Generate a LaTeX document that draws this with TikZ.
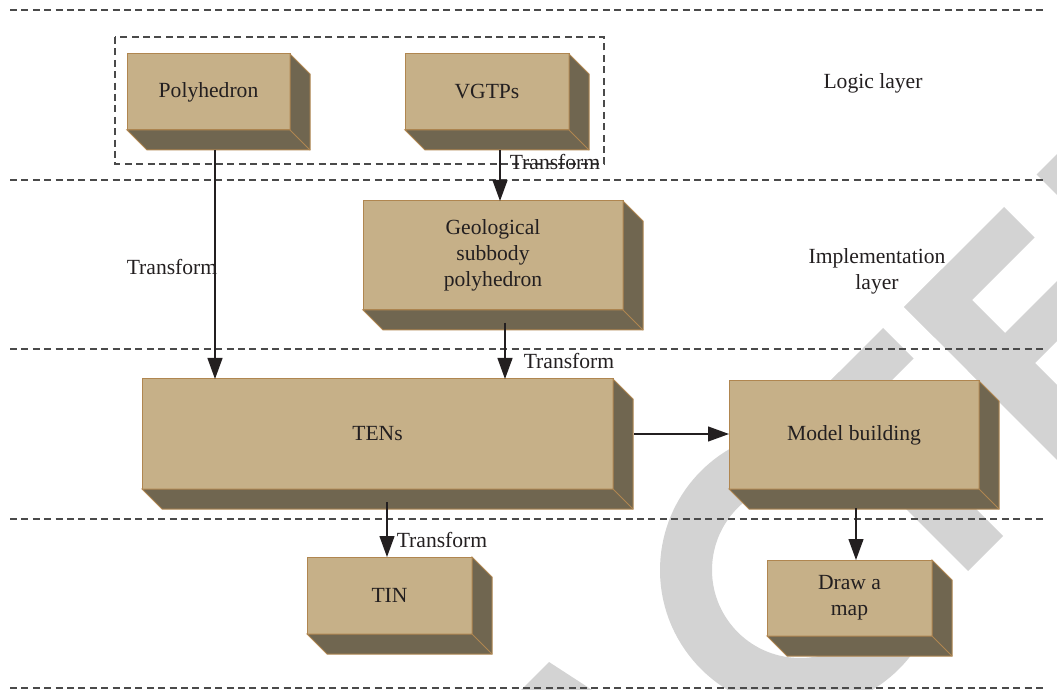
\documentclass[tikz,border=0pt]{standalone}
\usepackage{fontspec}
\setmainfont{Liberation Serif}
\usepackage{xcolor}
\usepackage{tikz}
\usetikzlibrary{arrows.meta}

\definecolor{boxfront}{HTML}{C6B088}
\definecolor{boxside}{HTML}{706650}
\definecolor{boxedge}{HTML}{B08650}
\definecolor{inkc}{HTML}{231F20}
\definecolor{wmgray}{HTML}{D3D3D3}
\definecolor{dashc}{HTML}{4A4A4A}

\tikzset{
  box3d/.style={draw=boxedge, fill=boxfront, line width=0.5pt, inner sep=0pt, outer sep=0pt, align=center, text=inkc},
  sideface/.style={draw=boxedge, fill=boxside, line width=0.5pt},
  layerline/.style={draw=dashc, line width=0.6pt, dash pattern=on 3.5pt off 2.2pt},
  arr/.style={draw=inkc, line width=0.6pt, -{Triangle[length=10.5pt,width=7.5pt]}},
  lbl/.style={text=inkc, inner sep=0pt}
}

% bottom and right faces of a box node
\newcommand{\drawdepth}[1]{%
  \filldraw[sideface] (#1.south west) -- ++(20,20) -- ([shift={(20,20)}]#1.south east)
    -- ([shift={(20,20)}]#1.north east) -- (#1.north east) -- (#1.south east) -- cycle;
  \draw[sideface] (#1.south east) -- ++(20,20);
}

\begin{document}
\begin{tikzpicture}[x=0.5pt, y=-0.5pt, font=\fontsize{10.8pt}{13pt}\selectfont]
  \useasboundingbox (0,0) rectangle (1057,690);

  % watermark
  \begin{scope}
    \clip (0,0) rectangle (1057,690);
    \fill[wmgray] (904,307) -- (1074,477) -- (1111.5,439.5) -- (941.5,269.5) -- cycle;
    \fill[wmgray] (904,307) -- (1004,207) -- (1034.5,237.5) -- (934.5,337.5) -- cycle;
    \fill[wmgray] (967.5,370.5) -- (1062.5,275.5) -- (1092.5,305.5) -- (997.5,400.5) -- cycle;
    \fill[wmgray] (1036.5,174.5) -- (1074,137) -- (1239,302) -- (1201.5,339.5) -- cycle;
    \fill[wmgray] (756,455) -- (883,328) -- (913.5,358.5) -- (786.5,485.5) -- cycle;
    \fill[wmgray] (804,407) -- (839,372) -- (1003,536) -- (968,571) -- cycle;
    \draw[wmgray, line width=26pt] (800,570) ++(5:114) arc[start angle=5, end angle=265, radius=114];
    \fill[wmgray] (549,662) -- (512,699) -- (606,699) -- cycle;
  \end{scope}

  % layers
  \foreach \y in {10,180,349,519,688}
    \draw[layerline] (10,\y) -- (1046,\y);
  \draw[layerline] (115,37) rectangle (604,164);

  % boxes
  \node[box3d, minimum width=81.5pt, minimum height=38pt] (poly) at (208.5,92) {Polyhedron};
  \node[box3d, minimum width=82pt, minimum height=38pt] (vgtp) at (487,92) {VGTPs};
  \node[box3d, minimum width=130pt, minimum height=54.5pt] (geo) at (493,255.5) {Geological\\subbody\\polyhedron};
  \node[box3d, minimum width=235.5pt, minimum height=55pt] (tens) at (377.5,434) {TENs};
  \node[box3d, minimum width=125pt, minimum height=54pt] (model) at (854,435) {Model building};
  \node[box3d, minimum width=82.5pt, minimum height=38.5pt] (tin) at (389.5,595.5) {TIN};
  \node[box3d, minimum width=82.5pt, minimum height=38pt] (map) at (849.5,598) {Draw a\\map};
  \foreach \b in {poly,vgtp,geo,tens,model,tin,map}
    \drawdepth{\b};

  % arrows
  \coordinate (pa) at (215,150);
  \coordinate (va) at (500,150);
  \coordinate (ga) at (505,323);
  \coordinate (ta) at (387,502);
  \coordinate (ma) at (856,508);
  \coordinate (ea) at ([xshift=10.5pt]tens.east);
  \draw[arr] (pa) -- (pa |- tens.north);
  \draw[arr] (va) -- (va |- geo.north);
  \draw[arr] (ga) -- (ga |- tens.north);
  \draw[arr] (ta) -- (ta |- tin.north);
  \draw[arr] (ma) -- (ma |- map.north);
  \draw[arr] (ea) -- (ea -| model.west);

  % labels
  \node[lbl] (t1) at (555,162) {Transform};
  \node[lbl] (t2) at (172,267) {Transform};
  \node[lbl] (t3) at (569,361) {Transform};
  \node[lbl] (t4) at (442,540) {Transform};
  \node[lbl] (logic) at (873,83) {Logic layer};
  \node[lbl, align=center] (impl) at (877,271) {Implementation\\layer};
\end{tikzpicture}
\end{document}
